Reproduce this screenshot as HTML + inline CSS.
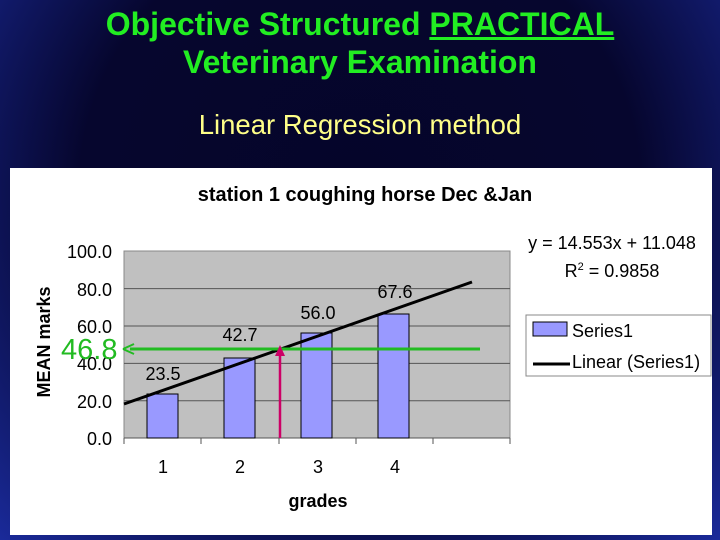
<!DOCTYPE html>
<html><head><style>
body{margin:0;width:720px;height:540px;overflow:hidden;background:radial-gradient(ellipse at 50% 35%,#05052a 0%,#06062e 55%,#1a2a9a 100%);font-family:"Liberation Sans",sans-serif;}
.t{position:absolute;left:0;width:720px;text-align:center;color:#22ee22;font-weight:bold;font-size:32px;line-height:38px}
</style></head><body>
<div class="t" style="top:5px">Objective Structured <u>PRACTICAL</u><br>Veterinary Examination</div>
<div class="t" style="top:108px;font-weight:normal;font-size:27.5px;line-height:34px;color:#ffff88">Linear Regression method</div>
<svg style="position:absolute;left:0;top:0" width="720" height="540" font-family="Liberation Sans, sans-serif">
<rect x="10" y="168" width="702" height="367" fill="#fff"/>
<text x="365" y="201" text-anchor="middle" font-weight="bold" font-size="20">station 1 coughing horse Dec &amp;Jan</text>
<rect x="124" y="251" width="386" height="187" fill="#c0c0c0" stroke="#888"/>
<g stroke="#555" stroke-width="1">
<line x1="124" y1="288.6" x2="510" y2="288.6"/><line x1="124" y1="326" x2="510" y2="326"/><line x1="124" y1="363.4" x2="510" y2="363.4"/><line x1="124" y1="400.8" x2="510" y2="400.8"/>
<line x1="124" y1="438" x2="510" y2="438"/>
<line x1="124" y1="438" x2="124" y2="444"/><line x1="201" y1="438" x2="201" y2="444"/><line x1="279" y1="438" x2="279" y2="444"/><line x1="356" y1="438" x2="356" y2="444"/><line x1="433" y1="438" x2="433" y2="444"/><line x1="510" y1="438" x2="510" y2="444"/>
</g>
<g fill="#9999ff" stroke="#000">
<rect x="147" y="394" width="31" height="44"/><rect x="224" y="358" width="31" height="80"/><rect x="301" y="333" width="31" height="105"/><rect x="378" y="314" width="31" height="124"/>
</g>
<g font-size="18" text-anchor="end"><text x="112" y="258">100.0</text><text x="112" y="296">80.0</text><text x="112" y="333">60.0</text><text x="112" y="370">40.0</text><text x="112" y="408">20.0</text><text x="112" y="445">0.0</text></g>
<g font-size="18" text-anchor="middle"><text x="163" y="473">1</text><text x="240" y="473">2</text><text x="318" y="473">3</text><text x="395" y="473">4</text>
<text x="163" y="380">23.5</text><text x="240" y="341">42.7</text><text x="318" y="319">56.0</text><text x="395" y="298">67.6</text></g>
<text x="318" y="507" text-anchor="middle" font-weight="bold" font-size="18">grades</text>
<text transform="translate(50,342) rotate(-90)" text-anchor="middle" font-weight="bold" font-size="18">MEAN marks</text>
<line x1="124" y1="404" x2="472" y2="282" stroke="#000" stroke-width="3"/>
<line x1="130" y1="349" x2="480" y2="349" stroke="#22bb22" stroke-width="3"/>
<path d="M123 349 L134 344 M123 349 L134 354" stroke="#22bb22" stroke-width="2"/>
<text x="61" y="359" fill="#22bb22" font-size="29">46.8</text>
<line x1="280" y1="438" x2="280" y2="352" stroke="#cc0066" stroke-width="2.5"/>
<path d="M280 345 L275 356 L285 356 Z" fill="#cc0066"/>
<text x="612" y="249" text-anchor="middle" font-size="18">y = 14.553x + 11.048</text>
<text x="612" y="277" text-anchor="middle" font-size="18">R<tspan font-size="11" dy="-7">2</tspan><tspan dy="7"> = 0.9858</tspan></text>
<rect x="526" y="315" width="185" height="61" fill="#fff" stroke="#888"/>
<rect x="533" y="322" width="34" height="14" fill="#9999ff" stroke="#000"/>
<text x="572" y="337" font-size="18">Series1</text>
<line x1="533" y1="364" x2="570" y2="364" stroke="#000" stroke-width="3"/>
<text x="572" y="368" font-size="18">Linear (Series1)</text>
</svg>
</body></html>
